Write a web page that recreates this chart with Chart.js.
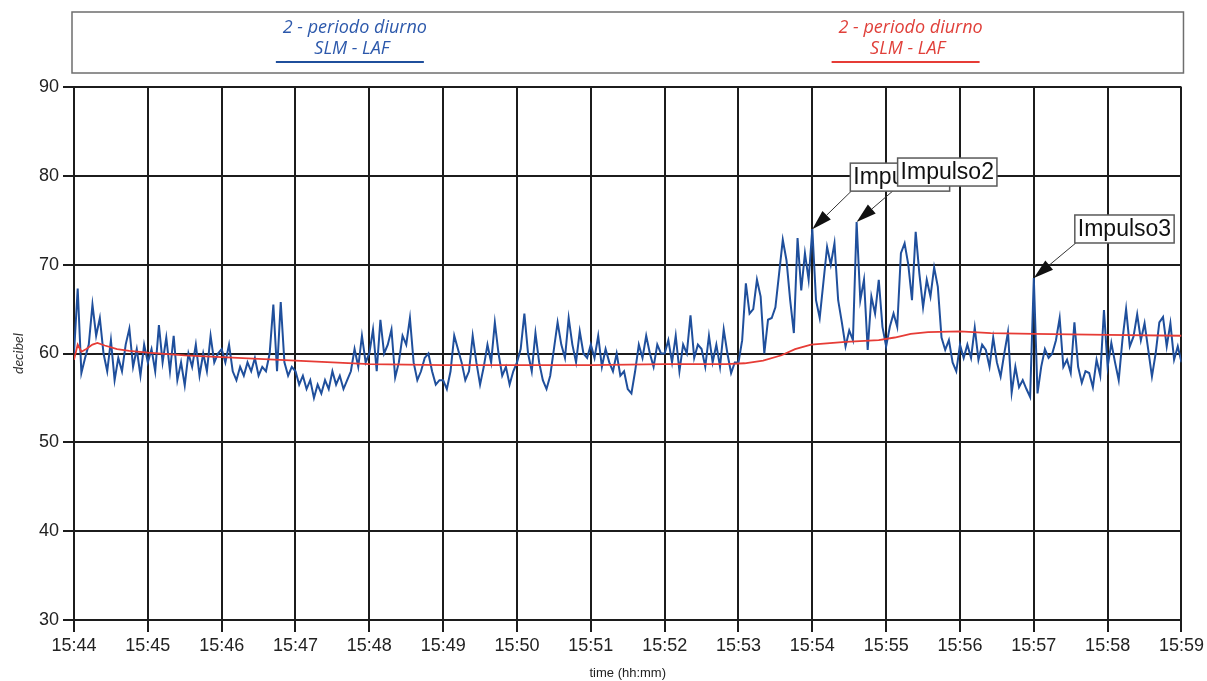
<!DOCTYPE html>
<html>
<head>
<meta charset="utf-8">
<script src="https://cdn.jsdelivr.net/npm/chart.js@4.4.0/dist/chart.umd.min.js"></script>
<style>
  html, body { margin: 0; padding: 0; background: #ffffff; }
  #wrap { width: 1207px; height: 681px; position: relative; }
</style>
</head>
<body>
<div id="wrap"><canvas id="c" width="1207" height="681"></canvas></div>
<script>
// ---- tick labels (one per minute) ----
const timeLabels = ["15:44","15:45","15:46","15:47","15:48","15:49","15:50","15:51",
                    "15:52","15:53","15:54","15:55","15:56","15:57","15:58","15:59"];
const minuteSeconds = 60;
const sampleStep = 3; // seconds between LAF samples

// ---- series names ----
const seriesNames = ["2 - periodo diurno", "2 - periodo diurno"];
const seriesMeters = ["SLM - LAF", "SLM - LAF"];

// ---- blue series: LAF, one value every 3 s, grouped per minute ----
const laf44 = [60, 67.3, 57.8, 59.5, 61, 65.5, 62, 64, 60, 58, 61.5, 57, 59.5, 58, 61, 62.8, 58.5, 60.5, 57.5, 61];
const laf45 = [59, 60.5, 58, 63.2, 59, 61.8, 58, 62, 57, 59, 56.4, 60, 58.5, 61, 57.5, 60, 58, 62, 59, 60];
const laf46 = [60.5, 59, 61, 58, 57, 58.5, 57.5, 59, 58, 59.5, 57.5, 58.5, 58, 60, 65.5, 58, 65.8, 59, 57.5, 58.5];
const laf47 = [58, 56.5, 57.5, 56, 57, 55, 56.5, 55.5, 57, 56, 58, 56.5, 57.5, 56, 57, 58, 60.5, 58.5, 62, 59];
const laf48 = [60, 62.7, 58, 63.8, 60, 61, 62.7, 57.3, 59, 62, 61, 64, 59, 57, 58, 59.5, 60, 58, 56.5, 57];
const laf49 = [57, 56, 58, 62, 60.5, 59, 57, 58, 62, 59, 56.5, 58.5, 61, 59, 63.5, 60, 57.5, 58.5, 56.5, 58];
const laf50 = [59, 60.5, 64.5, 60, 58, 62.3, 59, 57, 56, 57.5, 60.5, 63.5, 61, 59.5, 64, 61, 59, 62.5, 60, 59.5];
const laf51 = [61, 59.5, 62, 58.5, 60.5, 59, 58, 60, 57.5, 58, 56, 55.5, 58, 61, 59.5, 62, 60, 58.5, 61, 60];
const laf52 = [60, 61.5, 59, 62, 58, 61, 60, 64.3, 59.5, 61, 60.5, 58.5, 62, 59, 61, 58.5, 62.7, 60, 57.8, 59];
const laf53 = [59, 61.5, 67.9, 64.5, 65, 68.3, 66.4, 60, 63.8, 64, 65.2, 69, 72.8, 70.5, 66, 62.3, 73, 67.1, 71.3, 68.3];
const laf54 = [74, 66, 64, 68, 72, 70, 72.4, 66, 63.5, 60.8, 62.6, 61.5, 74.8, 66, 68.3, 60.4, 66.4, 64.5, 68.3, 63];
const laf55 = [60.8, 63, 64.5, 63, 71.3, 72.4, 70, 66, 73.7, 69, 65.2, 68.3, 66.4, 69.7, 67.5, 61.8, 60.4, 61.5, 59, 58];
const laf56 = [61, 59.5, 61, 59.5, 62.9, 59.3, 61, 60.4, 58.5, 61.8, 59, 57.4, 60, 62.4, 55.6, 58.5, 56.2, 57, 56, 55.1];
const laf57 = [68.5, 55.5, 58.5, 60.5, 59.5, 60, 61.5, 64, 58.5, 59.3, 57.8, 63.5, 58.5, 56.7, 58, 57.8, 56.2, 59.3, 57.5, 64.9];
const laf58 = [58.5, 61.2, 59, 57, 61.5, 65, 60.8, 61.9, 64.4, 61.5, 63.4, 60.4, 57.4, 60, 63.5, 64.1, 60.8, 63.4, 59.3, 60.8];
const laf59 = [59];

// ---- red series: running Leq (time in seconds from 15:44, value in dB) ----
const leqTimes  = [0, 3, 6, 10, 15, 19, 25, 35, 45, 60, 90, 120, 150, 180, 210, 240, 300, 360, 420, 480,
                   530, 545, 560, 575, 586, 599, 627, 654, 667, 680, 694, 720, 745, 780, 840, 900];
const leqValues = [59.3, 61, 60.2, 60.5, 61, 61.2, 60.9, 60.5, 60.3, 60.1, 59.8, 59.6, 59.4, 59.2, 59, 58.8, 58.7, 58.7, 58.7, 58.8,
                   58.8, 58.9, 59.2, 59.8, 60.5, 61, 61.3, 61.5, 61.8, 62.2, 62.4, 62.5, 62.3, 62.2, 62.1, 62];

// ---- annotations ----
const impulseLabels = ["Impulso1", "Impulso2", "Impulso3"];
const impulseTimes  = [600, 636, 780];
const impulseValues = [74, 74.8, 68.5];

// ---- build datasets ----
const lafValues = [].concat(laf44, laf45, laf46, laf47, laf48, laf49, laf50, laf51,
                            laf52, laf53, laf54, laf55, laf56, laf57, laf58, laf59);
const lafPoints = lafValues.map((v, i) => ({ x: i * sampleStep, y: v }));
const leqPoints = leqTimes.map((t, i) => ({ x: t, y: leqValues[i] }));

const BLUE = '#1f4f9c';
const RED = '#e63c36';
const GRID = '#1c1c1c';

const legendPlugin = {
  id: 'meterLegend',
  afterDraw(chart, args, opts) {
    const { ctx, chartArea } = chart;
    const left = chartArea.left - 2, right = chartArea.right + 2;
    const top = opts.top, bottom = opts.bottom;
    ctx.save();
    ctx.strokeStyle = '#6e6e6e';
    ctx.lineWidth = 1.5;
    ctx.strokeRect(left, top, right - left, bottom - top);
    const n = chart.data.datasets.length;
    chart.data.datasets.forEach((ds, i) => {
      const cx = left + (right - left) * (2 * i + 1) / (2 * n);
      ctx.fillStyle = ds.legendText;
      ctx.font = 'italic 18px "Open Sans", Lato, sans-serif';
      ctx.textAlign = 'center';
      ctx.textBaseline = 'middle';
      ctx.fillText(ds.label, cx + 5, top + 16);
      ctx.fillText(ds.meter, cx + 2, top + 37);
      ctx.strokeStyle = ds.borderColor;
      ctx.lineWidth = 2;
      ctx.beginPath();
      ctx.moveTo(cx - 74, top + 50);
      ctx.lineTo(cx + 74, top + 50);
      ctx.stroke();
    });
    ctx.restore();
  }
};

const impulsePlugin = {
  id: 'impulses',
  afterDatasetsDraw(chart, args, opts) {
    const { ctx } = chart;
    const xs = chart.scales.x, ys = chart.scales.y;
    ctx.save();
    ctx.font = opts.font;
    const tips = impulseTimes.map((t, i) => ({ x: xs.getPixelForValue(t), y: ys.getPixelForValue(impulseValues[i]) }));
    const boxes = tips.map((p, i) => {
      const w = ctx.measureText(impulseLabels[i]).width + 2 * opts.padX;
      const l = p.x + opts.offsets[i][0];
      const b = p.y + opts.offsets[i][1];
      return { l: l, t: b - opts.boxH, w: w, h: opts.boxH };
    });
    // arrows first
    tips.forEach((p, i) => {
      const bx = boxes[i];
      const sx = bx.l + 1, sy = bx.t + bx.h;
      const ang = Math.atan2(p.y - sy, p.x - sx);
      const hl = 20, hw = 6;
      const bxp = p.x - hl * Math.cos(ang), byp = p.y - hl * Math.sin(ang);
      ctx.strokeStyle = '#333';
      ctx.lineWidth = 1;
      ctx.beginPath();
      ctx.moveTo(sx, sy);
      ctx.lineTo(bxp, byp);
      ctx.stroke();
      ctx.fillStyle = '#111';
      ctx.beginPath();
      ctx.moveTo(p.x, p.y);
      ctx.lineTo(bxp + hw * Math.sin(ang), byp - hw * Math.cos(ang));
      ctx.lineTo(bxp - hw * Math.sin(ang), byp + hw * Math.cos(ang));
      ctx.closePath();
      ctx.fill();
    });
    // boxes
    boxes.forEach((bx, i) => {
      ctx.fillStyle = '#ffffff';
      ctx.fillRect(bx.l, bx.t, bx.w, bx.h);
      ctx.strokeStyle = '#5a5a5a';
      ctx.lineWidth = 1.5;
      ctx.strokeRect(bx.l, bx.t, bx.w, bx.h);
      ctx.fillStyle = '#111';
      ctx.textAlign = 'left';
      ctx.textBaseline = 'middle';
      ctx.fillText(impulseLabels[i], bx.l + opts.padX, bx.t + bx.h / 2 + 1);
    });
    ctx.restore();
  }
};

new Chart(document.getElementById('c'), {
  type: 'line',
  data: {
    datasets: [
      { label: seriesNames[0], meter: seriesMeters[0], legendText: '#2c58ab', data: lafPoints,
        borderColor: BLUE, borderWidth: 2, pointRadius: 0, tension: 0, fill: false, order: 2 },
      { label: seriesNames[1], meter: seriesMeters[1], legendText: '#e0403a', data: leqPoints,
        borderColor: RED, borderWidth: 1.8, pointRadius: 0, tension: 0, fill: false, order: 1 }
    ]
  },
  options: {
    responsive: false,
    animation: false,
    devicePixelRatio: 1,
    parsing: false,
    layout: { padding: { top: 87, right: 24, left: 0, bottom: 0 } },
    plugins: {
      legend: { display: false },
      tooltip: { enabled: false },
      meterLegend: { top: 12, bottom: 73 },
      impulses: { font: '23px "Liberation Sans", Arial, sans-serif', padX: 3, boxH: 28,
                  offsets: [[38, -38], [41, -36], [41, -35]] }
    },
    scales: {
      x: {
        type: 'linear', min: 0, max: 900,
        afterFit: s => { s.height = 61; },
        grid: { color: GRID, lineWidth: 2, tickLength: 12, tickColor: GRID },
        border: { color: GRID, width: 2 },
        ticks: {
          stepSize: minuteSeconds, autoSkip: false, maxRotation: 0, padding: 3,
          color: '#222', font: { family: '"Liberation Sans", Arial, sans-serif', size: 18 },
          callback: v => timeLabels[Math.round(v / minuteSeconds)]
        },
        title: { display: true, text: 'time (hh:mm)', color: '#222', padding: { top: 0, bottom: 0 },
                 font: { family: '"Liberation Sans", Arial, sans-serif', size: 13 } }
      },
      y: {
        min: 30, max: 90,
        afterFit: s => { s.width = 74; },
        grid: { color: GRID, lineWidth: 2, tickLength: 11, tickColor: GRID },
        border: { color: GRID, width: 2 },
        ticks: { stepSize: 10, padding: 4, color: '#222',
                 font: { family: '"Liberation Sans", Arial, sans-serif', size: 18 } },
        title: { display: true, text: 'decibel', color: '#333', padding: { top: 10, bottom: 10 },
                 font: { family: 'Lato, "Open Sans", sans-serif', size: 14, style: 'italic' } }
      }
    }
  },
  plugins: [legendPlugin, impulsePlugin]
});
</script>
</body>
</html>
